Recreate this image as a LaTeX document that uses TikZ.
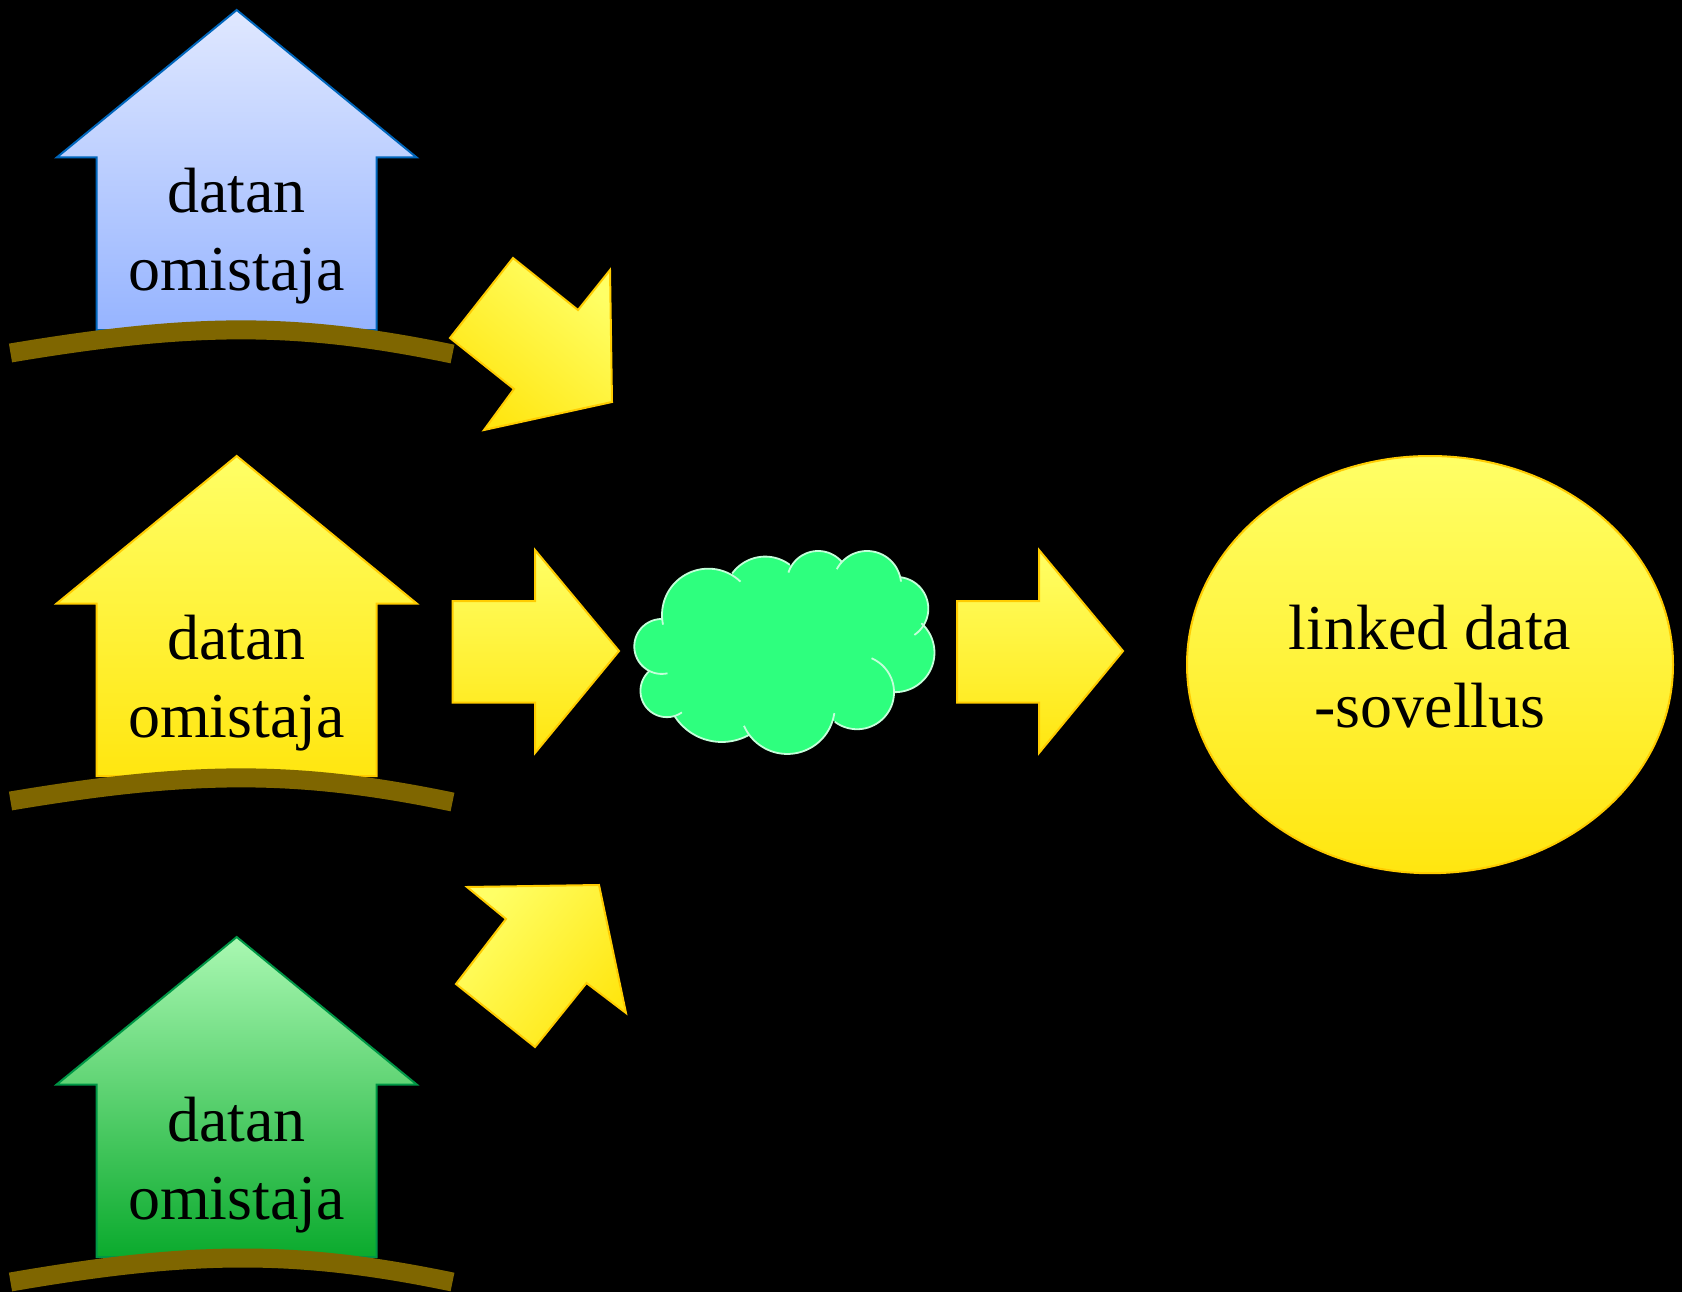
\documentclass[tikz,border=0pt]{standalone}
\usepackage{fontspec}
\setmainfont{Liberation Serif}
\definecolor{yl}{HTML}{FFFF66}
\definecolor{ym}{HTML}{FFF84F}
\definecolor{yd}{HTML}{FFE610}
\definecolor{ys}{HTML}{FFCC00}
\definecolor{groundc}{HTML}{7F6600}
\definecolor{cloudf}{HTML}{2EFF7E}
\definecolor{cloudl}{HTML}{C4FFDA}
\tikzset{
  lbl/.style={align=center,text=black,font=\fontsize{64}{78}\selectfont,inner sep=0pt},
  ground/.style={draw=groundc,line width=19pt},
  yshape/.style={draw=ys,line width=2pt,line join=miter},
  yfill/.style={top color=yl,middle color=ym,bottom color=yd},
  cloudline/.style={draw=cloudl,line width=1.8pt},
}
\newcommand{\housepath}{(0,0) -- (180,147.5) -- (140,147.5) -- (140,320) -- (-140,320) -- (-140,147.5) -- (-180,147.5) -- cycle}
\newcommand{\lobearc}[5]{\draw[cloudline] plot[domain=#4:#5,samples=40,smooth] ({#1+#3*cos(\x)},{#2+#3*sin(\x)});}
\newcommand{\lobefill}[3]{\fill[cloudf] (#1-#3,#2) .. controls (#1-#3,#2-0.5523*#3) and (#1-0.5523*#3,#2-#3) .. (#1,#2-#3) .. controls (#1+0.5523*#3,#2-#3) and (#1+#3,#2-0.5523*#3) .. (#1+#3,#2) .. controls (#1+#3,#2+0.5523*#3) and (#1+0.5523*#3,#2+#3) .. (#1,#2+#3) .. controls (#1-0.5523*#3,#2+#3) and (#1-#3,#2+0.5523*#3) .. (#1-#3,#2) -- cycle;}
\begin{document}
\begin{tikzpicture}[x=1pt,y=-1pt]
\path[use as bounding box,fill=black] (0,0) rectangle (1682,1292);
% houses
\path[shift={(236.7,10)},draw={rgb,255:red,0;green,102;blue,187},line width=2pt,top color={rgb,255:red,224;green,232;blue,255},bottom color={rgb,255:red,150;green,180;blue,255}] \housepath;
\path[shift={(236.7,456)},yshape,yfill] \housepath;
\path[shift={(236.7,937)},draw={rgb,255:red,0;green,150;blue,70},line width=2pt,top color={rgb,255:red,170;green,248;blue,178},bottom color={rgb,255:red,10;green,170;blue,45}] \housepath;
% grounds
\draw[ground] (10.5,353) .. controls (195,322) and (298,322) .. (452.5,354);
\draw[ground] (10.5,801) .. controls (195,770) and (298,770) .. (452.5,802);
\draw[ground] (10.5,1282) .. controls (195,1250) and (298,1250) .. (452.5,1282);
% labels
\node[lbl] (own1) at (236.5,236) {datan\\omistaja};
\node[lbl] (own2) at (236.5,683) {datan\\omistaja};
\node[lbl] (own3) at (236.5,1165) {datan\\omistaja};
% arrows
\path[yshape,yfill,shading angle=-39] (450,338) -- (513,258) -- (578,310) -- (610,270) -- (612,402) -- (484,430) -- (514,389) -- cycle;
\path[yshape,yfill,shading angle=51] (467,887) -- (599,885) -- (626,1013) -- (586.5,983) -- (535,1047) -- (456,984) -- (506,919) -- cycle;
\path[yshape,yfill] (452.5,601) -- (535,601) -- (535,550) -- (619,651) -- (535,753) -- (535,702.6) -- (452.5,702.6) -- cycle;
\path[yshape,yfill] (957,601) -- (1039,601) -- (1039,550) -- (1123,651) -- (1039,753) -- (1039,702.6) -- (957,702.6) -- cycle;
% app
\path[yshape,yfill] (1430,664.6) ellipse [x radius=243,y radius=208.6];
\node[lbl] (app) at (1430,666.5) {linked data\\-sovellus};
% cloud
\begin{scope}[shift={(620,530)},x=0.3333pt,y=-0.3333pt]
\fill[cloudf] (265,255) -- (436,202) -- (594,157) -- (741,166) -- (830,236) -- (825,368) -- (711,487) -- (502,530) -- (305,468) -- (140,482) -- (125,349) -- cycle;
\lobefill{265}{255}{139}
\lobefill{435.7}{202.3}{122.5}
\lobefill{594.4}{156.6}{93.6}
\lobefill{741}{165.6}{102.6}
\lobefill{830}{236}{95}
\lobefill{825}{368}{118.5}
\lobefill{711.3}{486.9}{110.9}
\lobefill{502}{529.6}{142.4}
\lobefill{305.5}{468}{168}
\lobefill{140.4}{482.5}{79}
\lobefill{125.3}{349.4}{82.4}
\lobearc{265}{255}{139}{168}{314}
\lobearc{435.7}{202.3}{122.5}{216}{307}
\lobearc{594.4}{156.6}{93.6}{198}{319}
\lobearc{741}{165.6}{102.6}{208}{354}
\lobearc{830}{236}{95}{278}{416}
\lobearc{825}{368}{118.5}{312}{450}
\lobearc{711.3}{486.9}{110.9}{-67}{127}
\lobearc{502}{529.6}{142.4}{8}{156}
\lobearc{305.5}{468}{168}{61}{147}
\lobearc{140.4}{482.5}{79}{55}{230}
\lobearc{125.3}{349.4}{82.4}{78}{270}
\end{scope}
\end{tikzpicture}
\end{document}
